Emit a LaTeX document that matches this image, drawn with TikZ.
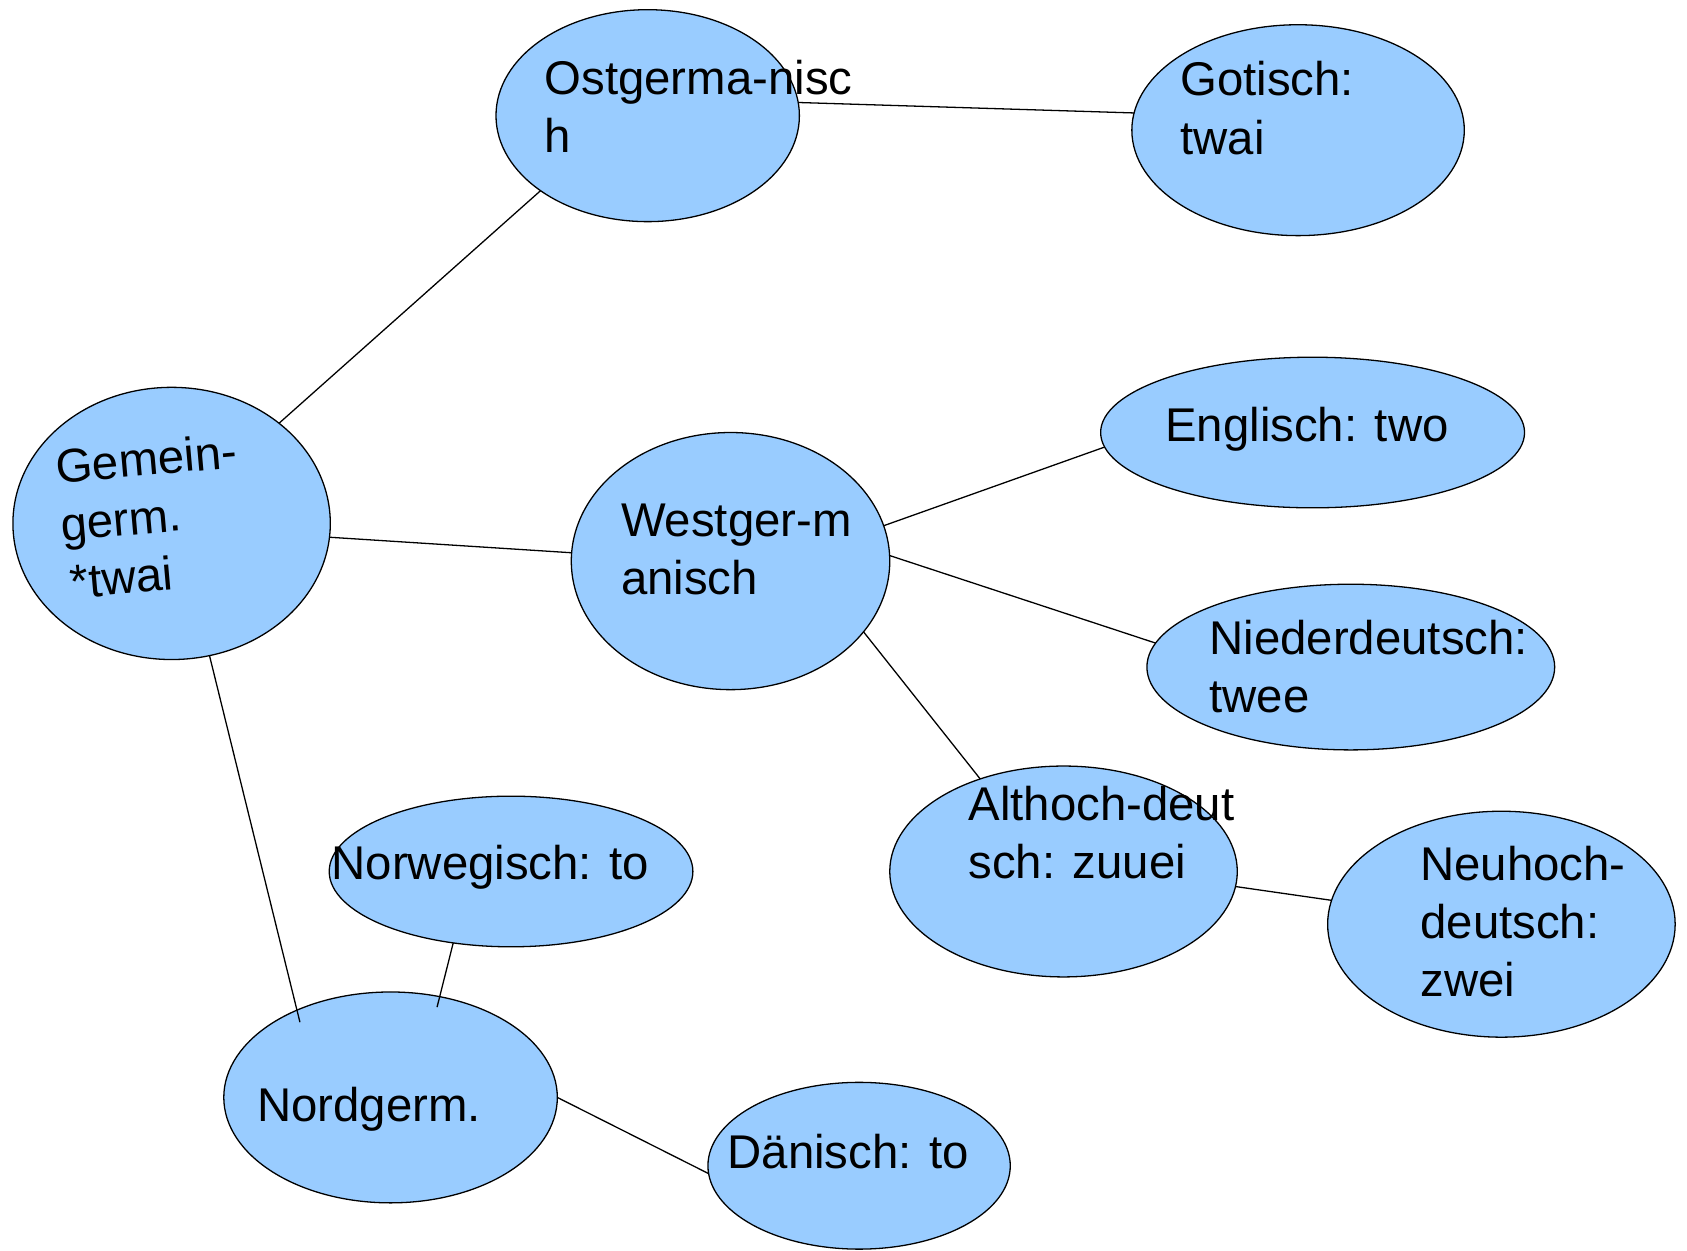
\documentclass[tikz,border=0pt]{standalone}
\usepackage{fontspec}
\setmainfont{Liberation Sans}
\usetikzlibrary{shapes.geometric}
\definecolor{fillblue}{HTML}{99CCFF}
\begin{document}
\begin{tikzpicture}[x=1pt,y=-1pt,
  ell/.style={ellipse, draw=black, line width=1.2pt, fill=fillblue, inner sep=0pt, outer sep=0pt},
  lbl/.style={anchor=north west, inner sep=0pt, align=left, font=\fontsize{44}{54}\selectfont},
  conn/.style={line width=1.2pt, draw=black}]
\useasboundingbox (0,0) rectangle (1568,1162);
% ellipses
\node[ell, minimum width=295pt, minimum height=253pt] (gem)  at (159.5,486.5) {};
\node[ell, minimum width=282pt, minimum height=197pt] (ost)  at (602,107.5) {};
\node[ell, minimum width=309pt, minimum height=196pt] (got)  at (1206.5,121) {};
\node[ell, minimum width=296pt, minimum height=239pt] (west) at (679,521.5) {};
\node[ell, minimum width=394pt, minimum height=140pt] (eng)  at (1220,402) {};
\node[ell, minimum width=379pt, minimum height=154pt] (nied) at (1255.5,620) {};
\node[ell, minimum width=323pt, minimum height=196pt] (alt)  at (988.5,810) {};
\node[ell, minimum width=323pt, minimum height=210pt] (neu)  at (1395.5,859) {};
\node[ell, minimum width=338pt, minimum height=140pt] (norw) at (475,810) {};
\node[ell, minimum width=310pt, minimum height=196pt] (nord) at (363,1020) {};
\node[ell, minimum width=281pt, minimum height=155pt] (dan)  at (798.5,1083.5) {};
% connectors
\draw[conn] (gem.43) -- (ost.215.5);
\draw[conn] (ost.5.5) -- (got.174.8);
\draw[conn] (gem.-5.6) -- (west.177.5);
\draw[conn] (west.13) -- (eng.184.4);
\draw[conn] (west.2.1) -- (nied.173.2);
\draw[conn] (west.-28.4) -- (alt.132.7);
\draw[conn] (alt.-5) -- (neu.172.6);
\draw[conn, shorten >=-11.5pt] (gem.-74.4) -- (nord.137.3);
\draw[conn, shorten >=-10pt] (norw.231.3) -- (nord.64.2);
\draw[conn] (nord.-0.4) -- (dan.183.1);
% labels
\node[lbl, rotate=5] (tgem) at (49.7,411.3) {\strut Gemein-\\germ.\\\hspace*{4pt}*twai};
\node[lbl] (tost)  at (506,50.2)   {\strut Ostgerma-nisc\\h};
\node[lbl] (tgot)  at (1097,51.2)  {\strut Gotisch:\\twai};
\node[lbl] (twest) at (577,460.2)  {\strut Westger-m\\anisch};
\node[lbl] (teng)  at (1083,372.2) {\strut Englisch: two};
\node[lbl] (tnied) at (1124,570.2) {\strut Niederdeutsch:\\twee};
\node[lbl] (talt)  at (900,724.2)  {\strut Althoch-deut\\sch: zuuei};
\node[lbl] (tneu)  at (1320,780.2) {\strut Neuhoch-\\deutsch:\\zwei};
\node[lbl] (tnorw) at (308,779.2)  {\strut Norwegisch: to};
\node[lbl] (tnord) at (239,1004.2) {\strut Nordgerm.};
\node[lbl] (tdan)  at (676,1048.2) {\strut Dänisch: to};
\end{tikzpicture}
\end{document}
